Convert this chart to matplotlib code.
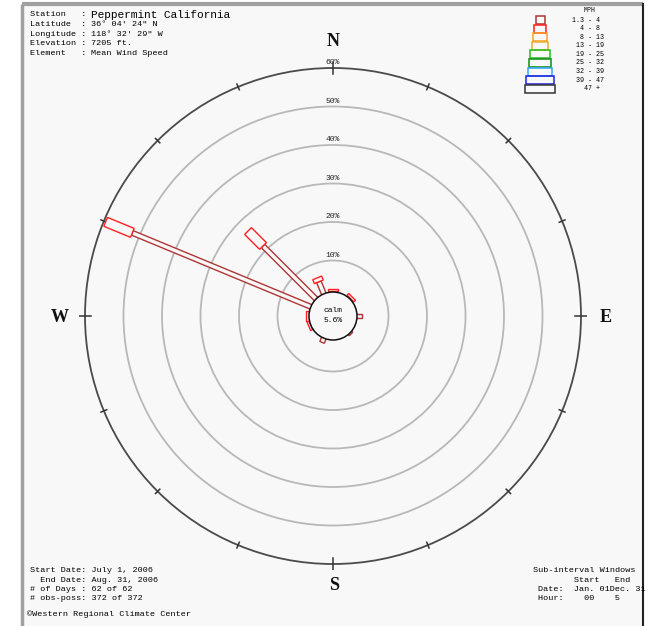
import numpy as np
import matplotlib
matplotlib.use('Agg')
import matplotlib.pyplot as plt
from matplotlib.patches import Polygon, Circle, Rectangle

# ================================== data ==================================
directions = ['N', 'NNE', 'NE', 'ENE', 'E', 'ESE', 'SE', 'SSE',
              'S', 'SSW', 'SW', 'WSW', 'W', 'WNW', 'NW', 'NNW']
bearings = np.arange(16) * 22.5
# percent of obs per speed class (only the two lowest classes occur)
pct_1_4 = [2.0, 0.0, 2.0, 0.0, 3.0, 0.0, 2.2, 0.0,
           0.0, 3.0, 0.0, 1.8, 1.8, 52.0, 21.3, 5.2]
pct_4_8 = [0.5, 0.0, 0.6, 0.0, 0.0, 0.0, 0.0, 0.0,
           0.0, 0.0, 0.0, 0.6, 0.8, 7.5, 5.5, 1.1]
calm_pct = 5.6
rings = [10, 20, 30, 40, 50, 60]

mph_labels = [' 1.3 - 4', '   4 - 8', '   8 - 13', '  13 - 19', '  19 - 25',
              '  25 - 32', '  32 - 39', '  39 - 47', '    47 +']
class_colors = ['#b03535', '#ff2020', '#ffa020', '#f0b030', '#20c020',
                '#108a10', '#30a8ff', '#2020e0', '#333333']

header = [('Station   : ', 'Peppermint California'),
          ('Latitude  : ', '36\u00b0 04\' 24" N'),
          ('Longitude : ', '118\u00b0 32\' 29" W'),
          ('Elevation : ', '7205 ft.'),
          ('Element   : ', 'Mean Wind Speed')]
footer_left = ['Start Date: July 1, 2006',
               '  End Date: Aug. 31, 2006',
               '# of Days : 62 of 62',
               '# obs-poss: 372 of 372']
footer_right = ['Sub-interval Windows',
                '       Start   End',
                'Date:  Jan. 01Dec. 31',
                'Hour:    00    5']
# ==================================  end data ==================================

W, H = 652, 626
mono = 'Liberation Mono'
bg = '#f8f8f8'

fig = plt.figure(figsize=(W / 100, H / 100), dpi=100)
fig.patch.set_facecolor('white')

# overlay in pixel coords (frame + text)
ax0 = fig.add_axes([0, 0, 1, 1], zorder=0)
ax0.set_xlim(0, W)
ax0.set_ylim(H, 0)
ax0.axis('off')
ax0.add_patch(Rectangle((22, 4), 621, H - 4, fc=bg, ec='none'))
ax0.plot([22, 643], [4, 4], color='#a0a0a0', lw=3, solid_capstyle='butt')
ax0.plot([22, 22], [4, H], color='#a0a0a0', lw=2.5, solid_capstyle='butt')
ax0.plot([642.5, 642.5], [4, H], color='#222222', lw=1.5)

# rose axes: 1 unit = 1 percent, 3.85 px per unit
scale = 3.85
cx, cy = 333, 316
half = 66
size = 2 * half * scale
ax = fig.add_axes([(cx - size / 2) / W, (H - cy - size / 2) / H, size / W, size / H],
                  zorder=1)
ax.set_xlim(-half, half)
ax.set_ylim(-half, half)
ax.patch.set_alpha(0)
ax.axis('off')

R0 = 17 / scale          # radius of the 0 % level
Rc = 24 / scale          # calm circle radius

# rings
for p in rings:
    r = R0 + p
    outer = p == rings[-1]
    ax.add_patch(Circle((0, 0), r, fill=False, lw=1.3,
                        ec='#4a4a4a' if outer else '#b8b8b8', zorder=1))
    ax.text(0, r + 0.5, f'{p}%', ha='center', va='bottom', fontsize=5.8,
            family=mono, color='#222222', zorder=3)

# direction ticks on outer ring
r_out = R0 + rings[-1]
for b in bearings:
    u = np.array([np.sin(np.radians(b)), np.cos(np.radians(b))])
    d = 1.6 if b % 90 == 0 else 0.8
    p1, p2 = (r_out - d) * u, (r_out + d) * u
    ax.plot([p1[0], p2[0]], [p1[1], p2[1]], color='#333333', lw=1.1, zorder=2)


def petal(b, r1, r2, hw, color):
    t = np.radians(b)
    u = np.array([np.sin(t), np.cos(t)])
    n = np.array([np.cos(t), -np.sin(t)])
    pts = [r1 * u + hw * n, r2 * u + hw * n, r2 * u - hw * n, r1 * u - hw * n]
    ax.add_patch(Polygon(pts, closed=True, fc=bg, ec=color, lw=1.0, zorder=4))


hw1 = 2.4 / scale
hw2 = 4.8 / scale
for b, a1, a2 in zip(bearings, pct_1_4, pct_4_8):
    if a1 > 0:
        petal(b, R0, R0 + a1, hw1, class_colors[0])
    if a2 > 0:
        petal(b, R0 + a1, R0 + a1 + a2, hw2, class_colors[1])

# calm circle
ax.add_patch(Circle((0, 0), Rc, fc=bg, ec='#111111', lw=1.1, zorder=5))
ax.text(0, 0.5, 'calm', ha='center', va='bottom', fontsize=5.8, family=mono, zorder=6)
ax.text(0, -0.3, f'{calm_pct}%', ha='center', va='top', fontsize=5.8, family=mono, zorder=6)

# compass letters
for lab, x, y in [('N', 333, 41), ('S', 334, 586), ('W', 60, 318), ('E', 606, 318)]:
    ax0.text(x, y, lab, ha='center', va='center', fontsize=13,
             family='Liberation Serif', weight='bold', color='#111111')

# header text
for i, (k, v) in enumerate(header):
    y = [15, 24.5, 34, 43.5, 53.5][i]
    ax0.text(30, y, k, ha='left', va='center', fontsize=6.1, family=mono)
    ax0.text(91, y, v, ha='left', va='center', family=mono,
             fontsize=8 if i == 0 else 6.1)

# footer text
for i, s in enumerate(footer_left):
    ax0.text(30, 571 + 9.2 * i, s, ha='left', va='center', fontsize=6.1, family=mono)
ax0.text(27, 614, '\u00a9Western Regional Climate Center', ha='left', va='center',
         fontsize=6.1, family=mono)
clip = Rectangle((0, 0), 641, H, transform=ax0.transData)
for i, s in enumerate(footer_right):
    x = 533 if i == 0 else 538
    t = ax0.text(x, 571 + 9.2 * i, s, ha='left', va='center', fontsize=6.1, family=mono)
    t.set_clip_path(clip)

# legend
ax0.text(590, 11, 'MPH', ha='center', va='center', fontsize=4.8, family=mono)
for i, (lab, col) in enumerate(zip(mph_labels, class_colors)):
    w = 9 + i * 2.6
    y0 = 16 + i * 8.6
    ax0.add_patch(Rectangle((540 - w / 2, y0), w, 8.1, fc='none', ec=col, lw=1.1))
    ax0.text(568, y0 + 4, lab, ha='left', va='center', fontsize=4.8, family=mono)

fig.savefig('out.png', dpi=100, facecolor='white')
